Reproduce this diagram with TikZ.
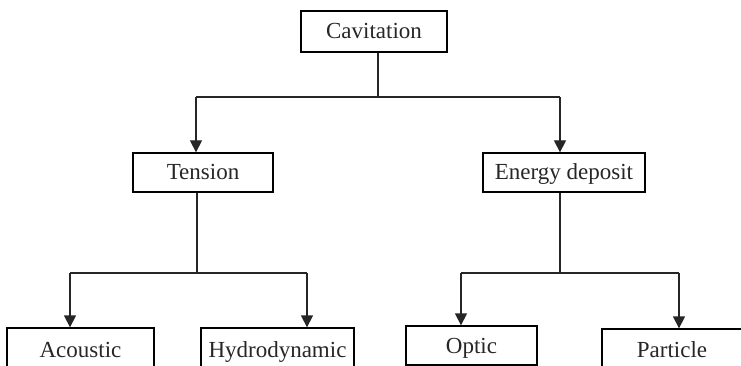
\documentclass[tikz,border=0pt]{standalone}
\usepackage{fontspec}
\setmainfont{Liberation Serif}
\usetikzlibrary{arrows.meta}
\begin{document}
\begin{tikzpicture}[x=1pt,y=-1pt,
  box/.style={draw, line width=1.3pt, inner sep=0pt, text height=15pt, text depth=0pt,
    font=\fontsize{23}{27}\selectfont, text=black!85},
  conn/.style={line width=1.3pt, draw=black!85},
  arr/.style={conn, -{Triangle[width=12pt,length=12pt]}}]
\useasboundingbox (0,0) rectangle (741,366);
\clip (0,0) rectangle (741,366);
\node[box, minimum width=146pt, minimum height=41pt] (cav) at (374,31.5) {Cavitation};
\node[box, minimum width=140pt, minimum height=39pt] (ten) at (203,172.5) {Tension};
\node[box, minimum width=162pt, minimum height=39pt] (ene) at (564,172.5) {Energy deposit};
\node[box, minimum width=147pt, minimum height=43pt] (aco) at (80.5,349.5) {Acoustic};
\node[box, minimum width=153pt, minimum height=43pt] (hyd) at (277.5,349.5) {Hydrodynamic};
\node[box, minimum width=131pt, minimum height=39pt] (opt) at (471.5,345.5) {Optic};
\node[box, minimum width=140pt, minimum height=41pt] (par) at (672,349.5) {Particle};
% junctions
\coordinate (j0) at (378,97);
\coordinate (jl) at (196,97);
\coordinate (jr) at (560,97);
\coordinate (k0) at (197,273);
\coordinate (kl) at (70,273);
\coordinate (kr) at (307,273);
\coordinate (m0) at (560,273);
\coordinate (ml) at (461,273);
\coordinate (mr) at (679,273);
\draw[conn] (j0 |- cav.south) -- (j0);
\draw[conn] (jl) -- (jr);
\draw[arr] (jl) -- (jl |- ten.north);
\draw[arr] (jr) -- (jr |- ene.north);
\draw[conn] (k0 |- ten.south) -- (k0);
\draw[conn] (kl) -- (kr);
\draw[arr] (kl) -- (kl |- aco.north);
\draw[arr] (kr) -- (kr |- hyd.north);
\draw[conn] (m0 |- ene.south) -- (m0);
\draw[conn] (ml) -- (mr);
\draw[arr] (ml) -- (ml |- opt.north);
\draw[arr] (mr) -- (mr |- par.north);
\end{tikzpicture}
\end{document}
